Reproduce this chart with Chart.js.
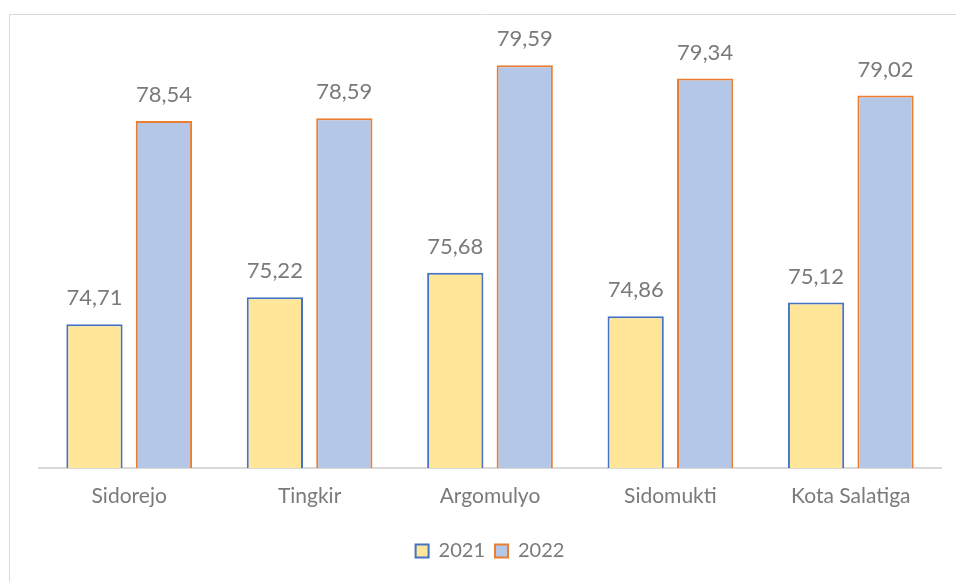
<!DOCTYPE html>
<html>
<head>
<meta charset="utf-8">
<script src="https://cdn.jsdelivr.net/npm/chart.js@4"></script>
<style>
html,body{margin:0;padding:0;background:#fff;}
#wrap{position:relative;width:956px;height:582px;}
</style>
</head>
<body>
<div id="wrap"><canvas id="c" width="956" height="582"></canvas></div>
<script>
const categories = ["Sidorejo", "Tingkir", "Argomulyo", "Sidomukti", "Kota Salatiga"];
const series2021 = [74.71, 75.22, 75.68, 74.86, 75.12];
const series2022 = [78.54, 78.59, 79.59, 79.34, 79.02];
const seriesNames = ["2021", "2022"];

const FONT = "Lato";
const TEXT = "#7a7a7a";

const frame = {
  id: 'frame',
  beforeDraw(chart) {
    const ctx = chart.ctx;
    ctx.save();
    ctx.strokeStyle = '#d9d9d9';
    ctx.lineWidth = 1;
    ctx.beginPath();
    ctx.moveTo(9.5, 582);
    ctx.lineTo(9.5, 14.5);
    ctx.lineTo(956, 14.5);
    ctx.stroke();
    ctx.restore();
  }
};

const labels = {
  id: 'vlabels',
  afterDatasetsDraw(chart) {
    const ctx = chart.ctx;
    ctx.save();
    ctx.font = "22px " + FONT;
    ctx.fillStyle = TEXT;
    ctx.textAlign = 'center';
    ctx.textBaseline = 'bottom';
    chart.data.datasets.forEach((ds, i) => {
      chart.getDatasetMeta(i).data.forEach((bar, j) => {
        ctx.fillText(ds.data[j].toFixed(2).replace('.', ','), bar.x, bar.y - 15);
      });
    });
    ctx.restore();
  }
};

new Chart(document.getElementById('c'), {
  type: 'bar',
  data: {
    labels: categories,
    datasets: [
      { label: seriesNames[0], data: series2021, backgroundColor: '#FFE699', borderColor: '#4472C4', borderWidth: 2 },
      { label: seriesNames[1], data: series2022, backgroundColor: '#B4C7E7', borderColor: '#ED7D31', borderWidth: 2 }
    ]
  },
  options: {
    responsive: false,
    animation: false,
    layout: { padding: { left: 39, right: 15, top: 17, bottom: 11 } },
    datasets: { bar: { categoryPercentage: 0.77, barPercentage: 0.81 } },
    scales: {
      y: { display: false, min: 72, max: 80.5 },
      x: {
        grid: { display: false, drawTicks: false },
        border: { color: '#d9d9d9', width: 2 },
        ticks: { color: TEXT, font: { family: FONT, size: 21 }, padding: 16 },
        afterFit(scale) { scale.height = 63; }
      }
    },
    plugins: {
      legend: {
        position: 'bottom',
        labels: { color: TEXT, font: { family: FONT, size: 20 }, boxWidth: 13, boxHeight: 13, padding: 10 }
      },
      tooltip: { enabled: false }
    }
  },
  plugins: [frame, labels]
});
</script>
</body>
</html>
